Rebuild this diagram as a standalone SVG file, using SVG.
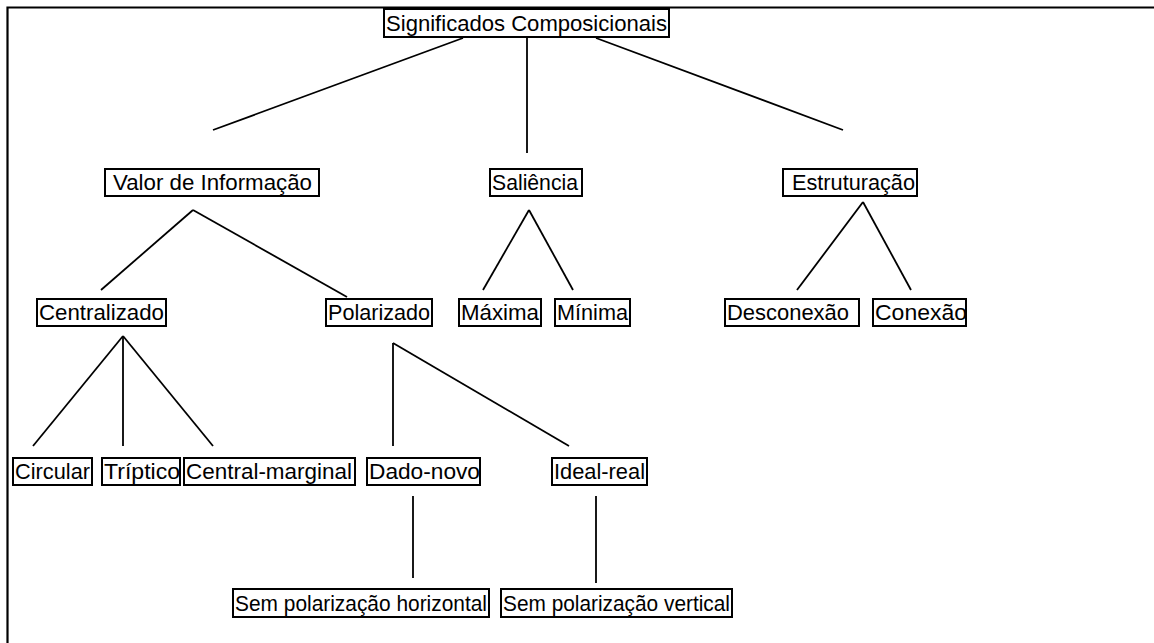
<svg xmlns="http://www.w3.org/2000/svg" width="1154" height="643" viewBox="0 0 1154 643">
  <style>
    .box { fill: #ffffff; stroke: #000000; stroke-width: 2; }
    .lbl { font-family: "Liberation Sans", Arial, sans-serif; font-size: 22px; fill: #000000; }
    .edge { stroke: #000000; stroke-width: 1.8; fill: none; }
    .frame { stroke: #000000; stroke-width: 2.2; fill: none; }
  </style>
  <rect x="0" y="0" width="1154" height="643" fill="#ffffff"/>

  <!-- outer frame (top and left edges) -->
  <path class="frame" d="M7.5 643 V7.5 H1154"/>

  <!-- connectors -->
  <g id="connectors">
    <line class="edge" x1="463" y1="38" x2="213" y2="130"/>
    <line class="edge" x1="527" y1="38" x2="527" y2="153"/>
    <line class="edge" x1="596" y1="38" x2="843" y2="130"/>

    <line class="edge" x1="193" y1="210" x2="101" y2="290"/>
    <line class="edge" x1="193" y1="210" x2="347" y2="297"/>

    <line class="edge" x1="529" y1="210" x2="483" y2="290"/>
    <line class="edge" x1="529" y1="210" x2="573" y2="290"/>

    <line class="edge" x1="863" y1="202" x2="797" y2="290"/>
    <line class="edge" x1="863" y1="202" x2="911" y2="290"/>

    <line class="edge" x1="123" y1="336" x2="33" y2="446"/>
    <line class="edge" x1="123" y1="336" x2="123" y2="446"/>
    <line class="edge" x1="123" y1="336" x2="213" y2="446"/>

    <line class="edge" x1="393" y1="343" x2="393" y2="446"/>
    <line class="edge" x1="393" y1="343" x2="569" y2="446"/>

    <line class="edge" x1="413" y1="496" x2="413" y2="578"/>
    <line class="edge" x1="596" y1="496" x2="596" y2="583"/>
  </g>

  <!-- nodes -->
  <g id="n-significados">
    <rect class="box" x="384" y="9" width="285" height="28"/>
    <text class="lbl" x="386" y="31" textLength="281" lengthAdjust="spacingAndGlyphs">Significados Composicionais</text>
  </g>

  <g id="n-valor">
    <rect class="box" x="105" y="169" width="214" height="27"/>
    <text class="lbl" x="113" y="190" textLength="199" lengthAdjust="spacingAndGlyphs">Valor de Informação</text>
  </g>
  <g id="n-saliencia">
    <rect class="box" x="490" y="169" width="92" height="27"/>
    <text class="lbl" x="492" y="190" textLength="86" lengthAdjust="spacingAndGlyphs">Saliência</text>
  </g>
  <g id="n-estruturacao">
    <rect class="box" x="783" y="169" width="134" height="27"/>
    <text class="lbl" x="792" y="190" textLength="123" lengthAdjust="spacingAndGlyphs">Estruturação</text>
  </g>

  <g id="n-centralizado">
    <rect class="box" x="37" y="299" width="129" height="27"/>
    <text class="lbl" x="39" y="320" textLength="125" lengthAdjust="spacingAndGlyphs">Centralizado</text>
  </g>
  <g id="n-polarizado">
    <rect class="box" x="326" y="299" width="106" height="27"/>
    <text class="lbl" x="328" y="320" textLength="102" lengthAdjust="spacingAndGlyphs">Polarizado</text>
  </g>
  <g id="n-maxima">
    <rect class="box" x="459" y="299" width="82" height="27"/>
    <text class="lbl" x="461" y="320" textLength="78" lengthAdjust="spacingAndGlyphs">Máxima</text>
  </g>
  <g id="n-minima">
    <rect class="box" x="555" y="299" width="75" height="27"/>
    <text class="lbl" x="557" y="320" textLength="71" lengthAdjust="spacingAndGlyphs">Mínima</text>
  </g>
  <g id="n-desconexao">
    <rect class="box" x="725" y="299" width="134" height="27"/>
    <text class="lbl" x="727" y="320" textLength="122" lengthAdjust="spacingAndGlyphs">Desconexão</text>
  </g>
  <g id="n-conexao">
    <rect class="box" x="873" y="299" width="93" height="27"/>
    <text class="lbl" x="875" y="320" textLength="92" lengthAdjust="spacingAndGlyphs">Conexão</text>
  </g>

  <g id="n-circular">
    <rect class="box" x="13" y="458" width="79" height="27"/>
    <text class="lbl" x="15" y="479" textLength="75" lengthAdjust="spacingAndGlyphs">Circular</text>
  </g>
  <g id="n-triptico">
    <rect class="box" x="102" y="458" width="78" height="27"/>
    <text class="lbl" x="104" y="479" textLength="76" lengthAdjust="spacingAndGlyphs">Tríptico</text>
  </g>
  <g id="n-central-marginal">
    <rect class="box" x="184" y="458" width="171" height="27"/>
    <text class="lbl" x="186" y="479" textLength="166" lengthAdjust="spacingAndGlyphs">Central-marginal</text>
  </g>
  <g id="n-dado-novo">
    <rect class="box" x="367" y="458" width="113" height="27"/>
    <text class="lbl" x="369" y="479" textLength="111" lengthAdjust="spacingAndGlyphs">Dado-novo</text>
  </g>
  <g id="n-ideal-real">
    <rect class="box" x="552" y="458" width="95" height="27"/>
    <text class="lbl" x="554" y="479" textLength="91" lengthAdjust="spacingAndGlyphs">Ideal-real</text>
  </g>

  <g id="n-sem-horizontal">
    <rect class="box" x="233" y="589" width="256" height="28"/>
    <text class="lbl" x="235" y="611" textLength="252" lengthAdjust="spacingAndGlyphs">Sem polarização horizontal</text>
  </g>
  <g id="n-sem-vertical">
    <rect class="box" x="501" y="589" width="231" height="28"/>
    <text class="lbl" x="503" y="611" textLength="227" lengthAdjust="spacingAndGlyphs">Sem polarização vertical</text>
  </g>
</svg>
